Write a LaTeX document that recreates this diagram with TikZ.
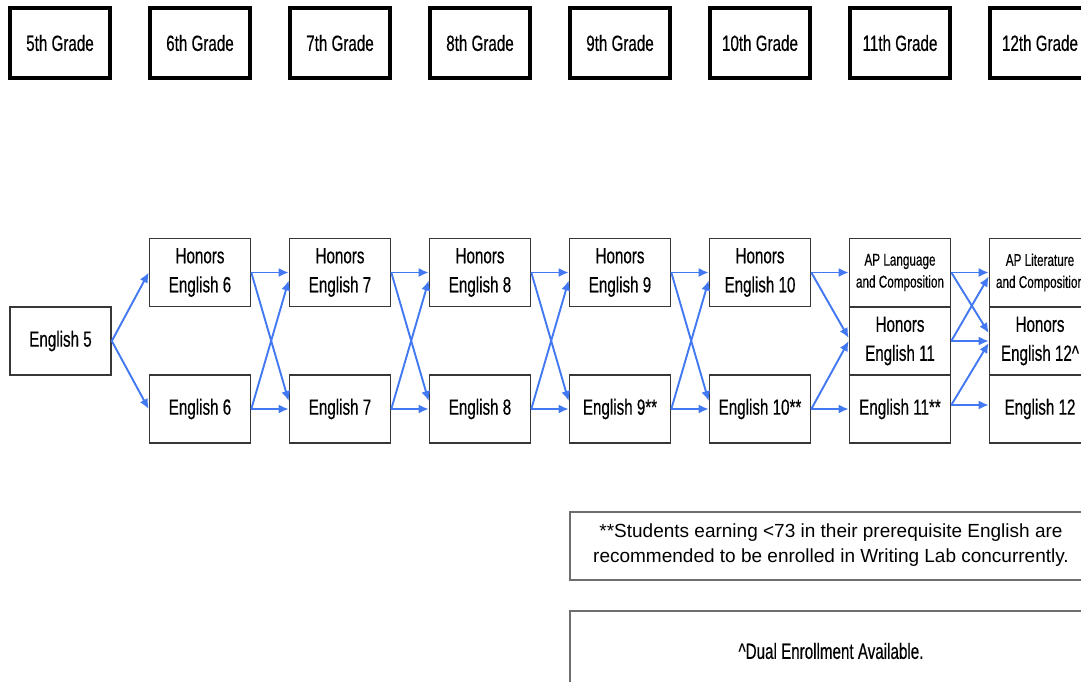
\documentclass[tikz,border=0pt]{standalone}
\usepackage{fontspec}
\setmainfont{Liberation Sans}
\newfontfamily\narrowsans[FakeStretch=0.69,FakeBold=0.4]{Liberation Sans}
\usetikzlibrary{arrows.meta}
\definecolor{flowblue}{RGB}{66,120,242}
\definecolor{boxgray}{RGB}{55,55,55}
\definecolor{notegray}{RGB}{110,110,110}

\begin{document}
\begin{tikzpicture}[x=1pt,y=-1pt,
            grade/.style={draw,line width=4pt,minimum width=100pt,minimum height=70pt,
                inner sep=0pt,font=\narrowsans\fontsize{22}{25}\selectfont},
            course/.style={draw=boxgray,line width=1.6pt,minimum width=101pt,
                minimum height=68pt,inner sep=0pt,align=center,
                font=\narrowsans\fontsize{22}{29}\selectfont},
            apcourse/.style={course,font=\narrowsans\fontsize{17}{22}\selectfont},
            note/.style={draw=notegray,line width=2pt,minimum width=522pt,
                inner sep=0pt,align=center},
            flow/.style={draw=flowblue,line width=1.9pt,-{Latex[length=10pt,width=9pt]}}]
            \useasboundingbox (0,0) rectangle (1081,681);
            \clip (0,0) rectangle (1081,681);
            \node[grade] (g5) at (60,43) {5th Grade};
            \node[grade] (g6) at (200,43) {6th Grade};
            \node[grade] (g7) at (340,43) {7th Grade};
            \node[grade] (g8) at (480,43) {8th Grade};
            \node[grade] (g9) at (620,43) {9th Grade};
            \node[grade] (g10) at (760,43) {10th Grade};
            \node[grade] (g11) at (900,43) {11th Grade};
            \node[grade] (g12) at (1040,43) {12th Grade};

            \node[course] (e5) at (60.5,341) {English 5};
            \node[course] (h6) at (200,272.5) {Honors\\English 6};
            \node[course] (e6) at (200,409) {English 6};
            \node[course] (h7) at (340,272.5) {Honors\\English 7};
            \node[course] (e7) at (340,409) {English 7};
            \node[course] (h8) at (480,272.5) {Honors\\English 8};
            \node[course] (e8) at (480,409) {English 8};
            \node[course] (h9) at (620,272.5) {Honors\\English 9};
            \node[course] (e9) at (620,409) {English 9**};
            \node[course] (h10) at (760,272.5) {Honors\\English 10};
            \node[course] (e10) at (760,409) {English 10**};
            \node[apcourse] (ap11) at (900,272.5) {AP Language\\and Composition};
            \node[course] (h11) at (900,341) {Honors\\English 11};
            \node[course] (e11) at (900,409) {English 11**};
            \node[apcourse] (ap12) at (1040,272.5) {AP Literature\\and Composition};
            \node[course] (h12) at (1040,341) {Honors\\English 12\textasciicircum};
            \node[course] (e12) at (1040,409) {English 12};

            \draw[flow] (e5.east) -- (h6.west);
            \draw[flow] (e5.east) -- (e6.west);

            \draw[flow] (h6.east) -- (h7.west);
            \draw[flow] (h6.east) -- ([yshift=8pt]e7.west);
            \draw[flow] (e6.east) -- ([yshift=-8pt]h7.west);
            \draw[flow] (e6.east) -- (e7.west);

            \draw[flow] (h7.east) -- (h8.west);
            \draw[flow] (h7.east) -- ([yshift=8pt]e8.west);
            \draw[flow] (e7.east) -- ([yshift=-8pt]h8.west);
            \draw[flow] (e7.east) -- (e8.west);

            \draw[flow] (h8.east) -- (h9.west);
            \draw[flow] (h8.east) -- ([yshift=8pt]e9.west);
            \draw[flow] (e8.east) -- ([yshift=-8pt]h9.west);
            \draw[flow] (e8.east) -- (e9.west);

            \draw[flow] (h9.east) -- (h10.west);
            \draw[flow] (h9.east) -- ([yshift=8pt]e10.west);
            \draw[flow] (e9.east) -- ([yshift=-8pt]h10.west);
            \draw[flow] (e9.east) -- (e10.west);

            \draw[flow] (h10.east) -- (ap11.west);
            \draw[flow] (h10.east) -- ([yshift=3pt]h11.west);
            \draw[flow] (e10.east) -- (h11.west);
            \draw[flow] (e10.east) -- (e11.west);

            \draw[flow] (ap11.east) -- (ap12.west);
            \draw[flow] (ap11.east) -- ([yshift=8pt]h12.west);
            \draw[flow] (h11.east) -- ([yshift=-4pt]ap12.west);
            \draw[flow] (h11.east) -- (h12.west);
            \draw[flow] ([yshift=4pt]e11.east) -- ([yshift=-2pt]h12.west);
            \draw[flow] ([yshift=4pt]e11.east) -- ([yshift=4pt]e12.west);

            \node[note,minimum height=68pt,font=\fontsize{19}{25}\selectfont] (wlnote) at (831,545.5)
                {**Students earning <73 in their prerequisite English are\\recommended to be enrolled in Writing Lab concurrently.};
            \node[note,minimum height=80pt,font=\narrowsans\fontsize{22}{25}\selectfont] (denote) at (831,651)
                {\textasciicircum Dual Enrollment Available.};
\end{tikzpicture}
\end{document}
